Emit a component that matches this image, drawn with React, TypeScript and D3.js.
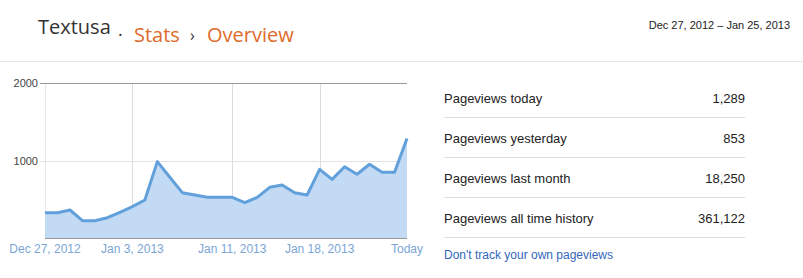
import React from "react";
import * as d3 from "d3";

const pageviews = [330, 330, 365, 227, 227, 266, 335, 408, 494, 989, 787, 589, 559, 529, 529, 529, 460, 529, 658, 688, 589, 559, 890, 761, 924, 826, 955, 852, 853, 1289];
const xTickIndex = [0, 7, 15, 22, 29];
const xTickLabels = ["Dec 27, 2012", "Jan 3, 2013", "Jan 11, 2013", "Jan 18, 2013", "Today"];
const yTicks = [1000, 2000];
const statLabels = ["Pageviews today", "Pageviews yesterday", "Pageviews last month", "Pageviews all time history"];
const statValues = ["1,289", "853", "18,250", "361,122"];

export default function App() {
  const W = 803, H = 278;
  const x = d3.scaleLinear().domain([0, pageviews.length - 1]).range([45, 407]);
  const y = d3.scaleLinear().domain([0, 2000]).range([238.3, 83.3]);
  const line = d3.line<number>().x((_, i) => x(i)).y((d) => y(d));
  const area = d3.area<number>().x((_, i) => x(i)).y0(y(0)).y1((d) => y(d));
  const arial = "Arial, 'Liberation Sans', sans-serif";
  const open = "'Open Sans', sans-serif";
  return (
    <svg width={W} height={H} style={{ position: "absolute", left: 0, top: 0, background: "#fff" }}>
      <text x={38} y={34} fontFamily={open} fontSize={20} fill="#333">Textusa</text>
      <text x={118} y={36} fontFamily={open} fontSize={18} fill="#333">.</text>
      <text x={134} y={42} fontFamily={open} fontSize={20} fill="#dd6b2a">Stats</text>
      <text x={190} y={41} fontFamily={open} fontSize={16} fill="#333">›</text>
      <text x={207} y={42} fontFamily={open} fontSize={20} fill="#dd6b2a">Overview</text>
      <text x={790} y={29} fontFamily={arial} fontSize={11} fill="#222" textAnchor="end">Dec 27, 2012 – Jan 25, 2013</text>
      <line x1={0} x2={W} y1={61.5} y2={61.5} stroke="#e5e5e5" />

      {xTickIndex.slice(1, 4).map((i) => (
        <line key={i} x1={Math.round(x(i)) + 0.5} x2={Math.round(x(i)) + 0.5} y1={y(2000)} y2={y(0)} stroke="#dcdcdc" />
      ))}
      <line x1={45.5} x2={45.5} y1={y(2000)} y2={y(0)} stroke="#e6e6e6" />
      <line x1={40} x2={407} y1={Math.round(y(1000)) + 0.5} y2={Math.round(y(1000)) + 0.5} stroke="#e2e2e2" />
      <path d={area(pageviews) || ""} fill="#c3daf5" />
      <path d={line(pageviews) || ""} fill="none" stroke="#62a0db" strokeWidth={3} strokeLinejoin="round" />
      <line x1={40} x2={407} y1={Math.round(y(2000)) + 0.5} y2={Math.round(y(2000)) + 0.5} stroke="#999" />
      <line x1={45} x2={407} y1={Math.round(y(0)) + 0.5} y2={Math.round(y(0)) + 0.5} stroke="#999" />
      {yTicks.map((t) => (
        <text key={t} x={38} y={y(t) + 4} fontFamily={arial} fontSize={11} fill="#444" textAnchor="end">{t}</text>
      ))}
      {xTickIndex.map((i, k) => (
        <text key={i} x={x(i)} y={253} fontFamily={arial} fontSize={12} fill="#7ba5d6" textAnchor="middle">{xTickLabels[k]}</text>
      ))}

      {statLabels.map((s, k) => (
        <g key={s}>
          <text x={444} y={102.5 + k * 40} fontFamily={arial} fontSize={13} fill="#222">{s}</text>
          <text x={745} y={102.5 + k * 40} fontFamily={arial} fontSize={13} fill="#222" textAnchor="end">{statValues[k]}</text>
          <line x1={444} x2={745} y1={117.5 + k * 40} y2={117.5 + k * 40} stroke="#dedede" />
        </g>
      ))}
      <text x={444} y={259} fontFamily={arial} fontSize={12} fill="#3366bb">Don't track your own pageviews</text>
    </svg>
  );
}
